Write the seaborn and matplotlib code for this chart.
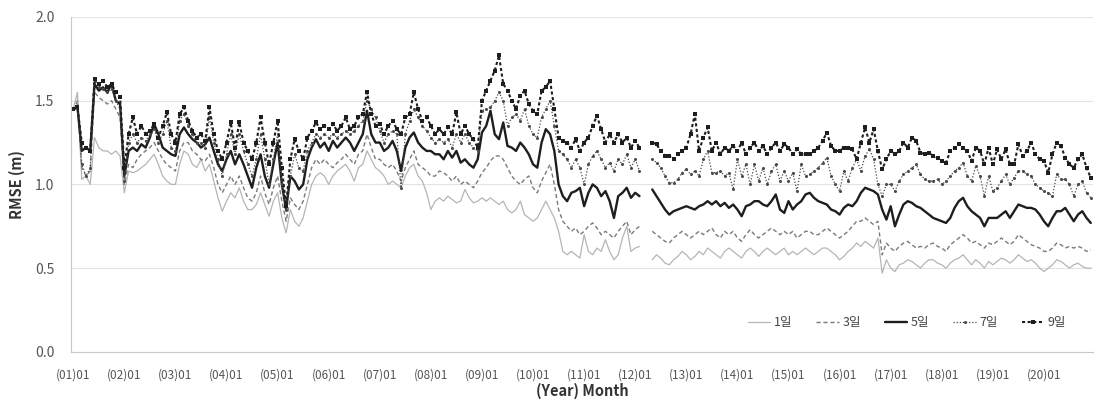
import numpy as np
import pandas as pd
import matplotlib
matplotlib.use("Agg")
import matplotlib.pyplot as plt
import seaborn as sns

nan = np.nan

# monthly RMSE (m), Jan 2001 .. Dec 2020, two months missing in 2012
d1 = [
    1.45, 1.55, 1.03, 1.05, 1.00, 1.28, 1.22, 1.20, 1.20, 1.18, 1.20, 1.17,
    0.95, 1.08, 1.07, 1.08, 1.10, 1.12, 1.15, 1.18, 1.12, 1.05, 1.02, 1.00,
    1.00, 1.12, 1.20, 1.18, 1.12, 1.10, 1.15, 1.08, 1.12, 1.02, 0.92, 0.84,
    0.90, 0.95, 0.92, 0.98, 0.90, 0.85, 0.85, 0.88, 0.95, 0.88, 0.81, 0.90,
    0.95, 0.80, 0.71, 0.85, 0.78, 0.75, 0.80, 0.90, 1.00, 1.05, 1.07, 1.05,
    1.00, 1.05, 1.08, 1.10, 1.12, 1.08, 1.02, 1.10, 1.12, 1.20, 1.15, 1.10,
    1.08, 1.05, 1.00, 1.02, 1.00, 0.98, 1.05, 1.10, 1.12, 1.05, 1.02, 0.95,
    0.85, 0.90, 0.92, 0.90, 0.93, 0.91, 0.89, 0.90, 0.97, 0.92, 0.89, 0.90,
    0.92, 0.90, 0.92, 0.90, 0.88, 0.90, 0.85, 0.83, 0.85, 0.90, 0.82, 0.80,
    0.78, 0.80, 0.85, 0.90, 0.85, 0.80, 0.72, 0.60, 0.58, 0.60, 0.58, 0.56,
    0.70, 0.60, 0.58, 0.62, 0.60, 0.67, 0.60, 0.55, 0.58, 0.68, 0.75, 0.60,
    0.62, 0.63, nan, nan, 0.55, 0.58, 0.56, 0.53, 0.52, 0.55, 0.57, 0.60,
    0.58, 0.55, 0.57, 0.60, 0.58, 0.62, 0.60, 0.58, 0.56, 0.60, 0.62, 0.60,
    0.58, 0.56, 0.60, 0.62, 0.60, 0.57, 0.60, 0.62, 0.60, 0.58, 0.60, 0.62,
    0.58, 0.60, 0.58, 0.60, 0.62, 0.60, 0.58, 0.60, 0.62, 0.62, 0.60, 0.58,
    0.55, 0.57, 0.60, 0.62, 0.65, 0.63, 0.66, 0.64, 0.62, 0.68, 0.47, 0.55,
    0.50, 0.48, 0.52, 0.53, 0.55, 0.54, 0.52, 0.50, 0.53, 0.55, 0.55, 0.53,
    0.52, 0.50, 0.53, 0.55, 0.56, 0.58, 0.55, 0.52, 0.55, 0.53, 0.50, 0.54,
    0.52, 0.54, 0.56, 0.55, 0.53, 0.55, 0.58, 0.56, 0.54, 0.55, 0.53, 0.50,
    0.48, 0.50, 0.52, 0.55, 0.54, 0.52, 0.50, 0.52, 0.53, 0.51, 0.50, 0.50,
]
d3 = [
    1.44, 1.50, 1.10, 1.05, 1.08, 1.55, 1.52, 1.50, 1.48, 1.50, 1.45, 1.40,
    1.00, 1.12, 1.10, 1.15, 1.18, 1.20, 1.22, 1.25, 1.20, 1.15, 1.12, 1.10,
    1.08, 1.20, 1.25, 1.25, 1.20, 1.18, 1.15, 1.14, 1.18, 1.10, 1.00, 0.95,
    1.00, 1.05, 1.00, 1.05, 0.98, 0.92, 0.90, 0.95, 1.05, 0.95, 0.88, 0.98,
    1.05, 0.90, 0.78, 0.92, 0.88, 0.85, 0.90, 1.00, 1.10, 1.15, 1.12, 1.15,
    1.12, 1.10, 1.13, 1.15, 1.18, 1.15, 1.12, 1.18, 1.20, 1.30, 1.22, 1.15,
    1.15, 1.12, 1.10, 1.12, 1.08, 1.02, 1.10, 1.15, 1.20, 1.12, 1.10, 1.08,
    1.05, 1.05, 1.08, 1.07, 1.05, 1.02, 1.05, 1.00, 1.02, 1.00, 0.98, 1.02,
    1.07, 1.10, 1.14, 1.17, 1.17, 1.15, 1.10, 1.05, 1.02, 1.00, 1.03, 1.05,
    0.98, 0.95, 1.02, 1.07, 1.12, 1.00, 0.85, 0.78, 0.75, 0.72, 0.74, 0.70,
    0.72, 0.75, 0.77, 0.74, 0.70, 0.72, 0.70, 0.68, 0.72, 0.75, 0.78, 0.70,
    0.73, 0.75, nan, nan, 0.72, 0.70, 0.68, 0.66, 0.65, 0.68, 0.70, 0.72,
    0.70, 0.68, 0.70, 0.72, 0.70, 0.72, 0.74, 0.70, 0.68, 0.72, 0.70, 0.72,
    0.68, 0.66, 0.70, 0.73, 0.70, 0.68, 0.70, 0.72, 0.74, 0.72, 0.70, 0.72,
    0.70, 0.72, 0.68, 0.70, 0.72, 0.72, 0.70, 0.70, 0.72, 0.74, 0.72, 0.70,
    0.68, 0.70, 0.72, 0.75, 0.78, 0.78, 0.80, 0.78, 0.76, 0.78, 0.58, 0.65,
    0.62, 0.60, 0.63, 0.65, 0.66, 0.64, 0.62, 0.63, 0.62, 0.64, 0.65, 0.63,
    0.62, 0.60, 0.64, 0.66, 0.68, 0.70, 0.68, 0.65, 0.66, 0.64, 0.62, 0.65,
    0.64, 0.66, 0.68, 0.66, 0.64, 0.66, 0.70, 0.68, 0.66, 0.64, 0.63, 0.62,
    0.60, 0.60, 0.62, 0.65, 0.64, 0.62, 0.63, 0.62, 0.63, 0.62, 0.60, 0.61,
]
d5 = [
    1.45, 1.46, 1.20, 1.22, 1.20, 1.60, 1.56, 1.58, 1.55, 1.60, 1.50, 1.48,
    1.05, 1.20, 1.22, 1.20, 1.24, 1.22, 1.28, 1.36, 1.30, 1.22, 1.20, 1.18,
    1.17, 1.30, 1.34, 1.30, 1.27, 1.25, 1.22, 1.24, 1.28, 1.20, 1.12, 1.08,
    1.15, 1.20, 1.12, 1.18, 1.12, 1.05, 0.98, 1.10, 1.18, 1.05, 0.98, 1.12,
    1.25, 1.00, 0.85, 1.05, 1.02, 0.97, 1.00, 1.15, 1.22, 1.27, 1.22, 1.25,
    1.20, 1.26, 1.22, 1.25, 1.28, 1.25, 1.20, 1.25, 1.30, 1.44, 1.30, 1.25,
    1.25, 1.20, 1.22, 1.26, 1.20, 1.08, 1.22, 1.28, 1.31, 1.25, 1.22, 1.20,
    1.20, 1.18, 1.18, 1.15, 1.20, 1.16, 1.20, 1.13, 1.15, 1.12, 1.10, 1.15,
    1.31, 1.35, 1.44, 1.30, 1.27, 1.37, 1.23, 1.22, 1.20, 1.25, 1.22, 1.18,
    1.12, 1.10, 1.25, 1.33, 1.30, 1.20, 1.00, 0.93, 0.90, 0.95, 0.96, 0.98,
    0.87, 0.95, 1.00, 0.98, 0.93, 0.96, 0.90, 0.80, 0.93, 0.95, 0.98, 0.92,
    0.95, 0.93, nan, nan, 0.97, 0.93, 0.89, 0.85, 0.82, 0.84, 0.85, 0.86,
    0.87, 0.86, 0.85, 0.87, 0.88, 0.90, 0.88, 0.90, 0.87, 0.89, 0.86, 0.88,
    0.85, 0.81, 0.87, 0.88, 0.90, 0.90, 0.88, 0.87, 0.90, 0.94, 0.85, 0.83,
    0.90, 0.85, 0.88, 0.90, 0.94, 0.95, 0.92, 0.90, 0.89, 0.88, 0.85, 0.84,
    0.82, 0.86, 0.88, 0.87, 0.90, 0.95, 0.98, 0.97, 0.96, 0.94, 0.85, 0.79,
    0.87, 0.75, 0.82, 0.88, 0.90, 0.89, 0.87, 0.86, 0.84, 0.82, 0.80, 0.79,
    0.78, 0.77, 0.80, 0.86, 0.90, 0.92, 0.87, 0.84, 0.82, 0.80, 0.75, 0.80,
    0.80, 0.80, 0.82, 0.84, 0.80, 0.84, 0.88, 0.87, 0.86, 0.86, 0.85, 0.82,
    0.78, 0.75, 0.80, 0.84, 0.84, 0.86, 0.82, 0.78, 0.82, 0.84, 0.80, 0.77,
]
d7 = [
    1.45, 1.47, 1.12, 1.05, 1.10, 1.62, 1.58, 1.57, 1.55, 1.57, 1.50, 1.45,
    1.02, 1.25, 1.30, 1.25, 1.28, 1.26, 1.30, 1.33, 1.25, 1.30, 1.38, 1.22,
    1.20, 1.38, 1.42, 1.35, 1.30, 1.25, 1.25, 1.22, 1.40, 1.25, 1.15, 1.05,
    1.18, 1.30, 1.18, 1.30, 1.20, 1.12, 1.05, 1.15, 1.30, 1.15, 1.00, 1.15,
    1.30, 1.00, 0.85, 1.05, 1.18, 1.10, 1.08, 1.20, 1.25, 1.30, 1.28, 1.30,
    1.28, 1.30, 1.28, 1.30, 1.32, 1.30, 1.32, 1.35, 1.38, 1.50, 1.45, 1.40,
    1.32, 1.25, 1.30, 1.32, 1.30, 0.98, 1.30, 1.38, 1.45, 1.40, 1.35, 1.32,
    1.28, 1.25, 1.27, 1.25, 1.27, 1.22, 1.30, 1.25, 1.30, 1.25, 1.22, 1.20,
    1.44, 1.45, 1.46, 1.50, 1.55, 1.50, 1.35, 1.40, 1.42, 1.38, 1.45, 1.35,
    1.30, 1.28, 1.40, 1.45, 1.50, 1.35, 1.20, 1.18, 1.15, 1.10, 1.15, 1.10,
    1.00, 1.12, 1.17, 1.20, 1.15, 1.10, 1.13, 1.08, 1.15, 1.12, 1.18, 1.10,
    1.15, 1.08, nan, nan, 1.15, 1.13, 1.10, 1.05, 1.01, 1.01, 1.03, 1.07,
    1.09, 1.06, 1.08, 1.05, 1.15, 1.20, 1.07, 1.07, 1.08, 1.05, 1.07, 0.97,
    1.15, 1.05, 1.12, 1.00, 1.12, 1.02, 1.10, 1.00, 1.08, 1.12, 1.02, 1.08,
    1.02, 1.07, 0.96, 1.12, 1.05, 1.06, 1.08, 1.10, 1.13, 1.16, 1.05, 1.00,
    0.96, 1.08, 1.02, 1.10, 1.15, 1.08, 1.17, 1.21, 1.15, 1.00, 0.93, 1.00,
    1.00, 0.96, 1.02, 1.06, 1.08, 1.10, 1.12, 1.06, 1.03, 1.02, 1.02, 1.03,
    1.00, 1.02, 1.05, 1.08, 1.10, 1.13, 1.05, 1.02, 1.11, 1.05, 0.93, 1.05,
    0.96, 0.98, 1.02, 1.06, 1.00, 1.04, 1.08, 1.08, 1.06, 1.05, 1.00, 0.98,
    0.96, 0.95, 0.93, 1.06, 1.03, 1.03, 1.00, 0.93, 1.00, 1.02, 0.95, 0.92,
]
d9 = [
    1.45, 1.46, 1.25, 1.22, 1.20, 1.63, 1.60, 1.62, 1.58, 1.60, 1.55, 1.52,
    1.10, 1.30, 1.40, 1.30, 1.35, 1.30, 1.32, 1.36, 1.28, 1.35, 1.43, 1.30,
    1.25, 1.42, 1.46, 1.38, 1.32, 1.28, 1.30, 1.26, 1.46, 1.30, 1.20, 1.15,
    1.25, 1.37, 1.22, 1.37, 1.25, 1.20, 1.15, 1.25, 1.40, 1.25, 1.12, 1.25,
    1.38, 1.10, 0.87, 1.15, 1.27, 1.20, 1.15, 1.28, 1.32, 1.37, 1.33, 1.35,
    1.33, 1.36, 1.32, 1.35, 1.40, 1.33, 1.35, 1.40, 1.42, 1.55, 1.42, 1.35,
    1.36, 1.30, 1.35, 1.38, 1.33, 1.30, 1.40, 1.42, 1.55, 1.45, 1.38, 1.40,
    1.35, 1.30, 1.33, 1.30, 1.34, 1.30, 1.43, 1.30, 1.35, 1.30, 1.27, 1.22,
    1.50, 1.56, 1.62, 1.68, 1.77, 1.60, 1.56, 1.50, 1.45, 1.53, 1.56, 1.48,
    1.44, 1.42, 1.56, 1.58, 1.62, 1.45, 1.28, 1.26, 1.25, 1.22, 1.27, 1.20,
    1.25, 1.28, 1.35, 1.41, 1.33, 1.25, 1.30, 1.25, 1.30, 1.25, 1.28, 1.22,
    1.26, 1.22, nan, nan, 1.25, 1.24, 1.20, 1.17, 1.17, 1.15, 1.18, 1.20,
    1.22, 1.30, 1.42, 1.20, 1.28, 1.34, 1.20, 1.25, 1.18, 1.22, 1.20, 1.23,
    1.20, 1.25, 1.18, 1.22, 1.25, 1.20, 1.23, 1.18, 1.22, 1.25, 1.20, 1.24,
    1.22, 1.18, 1.21, 1.18, 1.18, 1.18, 1.20, 1.22, 1.26, 1.31, 1.23, 1.20,
    1.20, 1.22, 1.22, 1.21, 1.15, 1.25, 1.34, 1.25, 1.33, 1.20, 1.09, 1.15,
    1.20, 1.18, 1.20, 1.25, 1.22, 1.28, 1.26, 1.19, 1.18, 1.19, 1.17, 1.16,
    1.14, 1.13, 1.20, 1.22, 1.24, 1.22, 1.20, 1.14, 1.22, 1.20, 1.12, 1.22,
    1.12, 1.21, 1.15, 1.21, 1.12, 1.12, 1.24, 1.17, 1.20, 1.25, 1.18, 1.15,
    1.14, 1.07, 1.18, 1.25, 1.23, 1.16, 1.12, 1.10, 1.15, 1.18, 1.10, 1.04,
]

series_names = ["1일", "3일", "5일", "7일", "9일"]
years = list(range(1, 21))
tick_labels = [f"({y:02d})01" for y in years]

sns.set_style("white")
plt.rcParams["font.family"] = ["Noto Sans CJK KR", "DejaVu Sans"]

styles = {
    "1일": dict(color="#b5b5b5", linewidth=0.9, linestyle="-"),
    "3일": dict(color="#7a7a7a", linewidth=1.0, linestyle=(0, (3, 2))),
    "5일": dict(color="#1e1e1e", linewidth=1.7, linestyle="-"),
    "7일": dict(color="#4a4a4a", linewidth=0.9, linestyle=(0, (1, 1.5)),
                marker="o", markersize=2.2, markeredgewidth=0),
    "9일": dict(color="#1e1e1e", linewidth=1.5, linestyle=(0, (1.5, 1.2)),
                marker="s", markersize=2.8, markeredgewidth=0),
}

month = np.arange(len(d1))
df = pd.DataFrame({"month": month, "1일": d1, "3일": d3, "5일": d5, "7일": d7, "9일": d9})

fig = plt.figure(figsize=(10.94, 4.04), dpi=100)
ax = fig.add_axes([0.065, 0.129, 0.934, 0.829])

for name in series_names:
    s = df[["month", name]].copy()
    s["seg"] = s[name].isna().cumsum()
    s = s.dropna()
    first = True
    for _, part in s.groupby("seg"):
        sns.lineplot(data=part, x="month", y=name, ax=ax, estimator=None,
                     errorbar=None, sort=False, label=name if first else None,
                     **styles[name])
        first = False

ax.set_xlim(-0.5, len(d1) - 0.5)
ax.set_ylim(0, 2.0)
ax.set_yticks([0, 0.5, 1.0, 1.5, 2.0])
ax.set_yticklabels(["0.0", "0.5", "1.0", "1.5", "2.0"])
ax.set_xticks(np.arange(0, len(d1), 12))
ax.set_xticklabels(tick_labels)
ax.yaxis.grid(True, color="#e3e3e3", linewidth=0.8)
ax.set_axisbelow(True)
for side in ["top", "right"]:
    ax.spines[side].set_visible(False)
for side in ["left", "bottom"]:
    ax.spines[side].set_color("#c8c8c8")
    ax.spines[side].set_linewidth(0.8)
ax.tick_params(axis="x", length=0, labelsize=8.5, labelcolor="#555555", pad=12)
ax.tick_params(axis="y", length=4, color="#c8c8c8", labelsize=10, labelcolor="#555555", pad=8)
ax.set_xlabel("(Year) Month", fontsize=10.5, fontweight="bold", color="#333333", labelpad=1)
ax.set_ylabel("RMSE (m)", fontsize=10.5, fontweight="bold", color="#333333", labelpad=7)

ax.legend(loc="center right", bbox_to_anchor=(0.985, 0.087), ncol=5, frameon=False,
          fontsize=9, handlelength=1.8, columnspacing=1.9, handletextpad=0.3,
          labelcolor="#444444")

fig.savefig("out.png", dpi=100)
